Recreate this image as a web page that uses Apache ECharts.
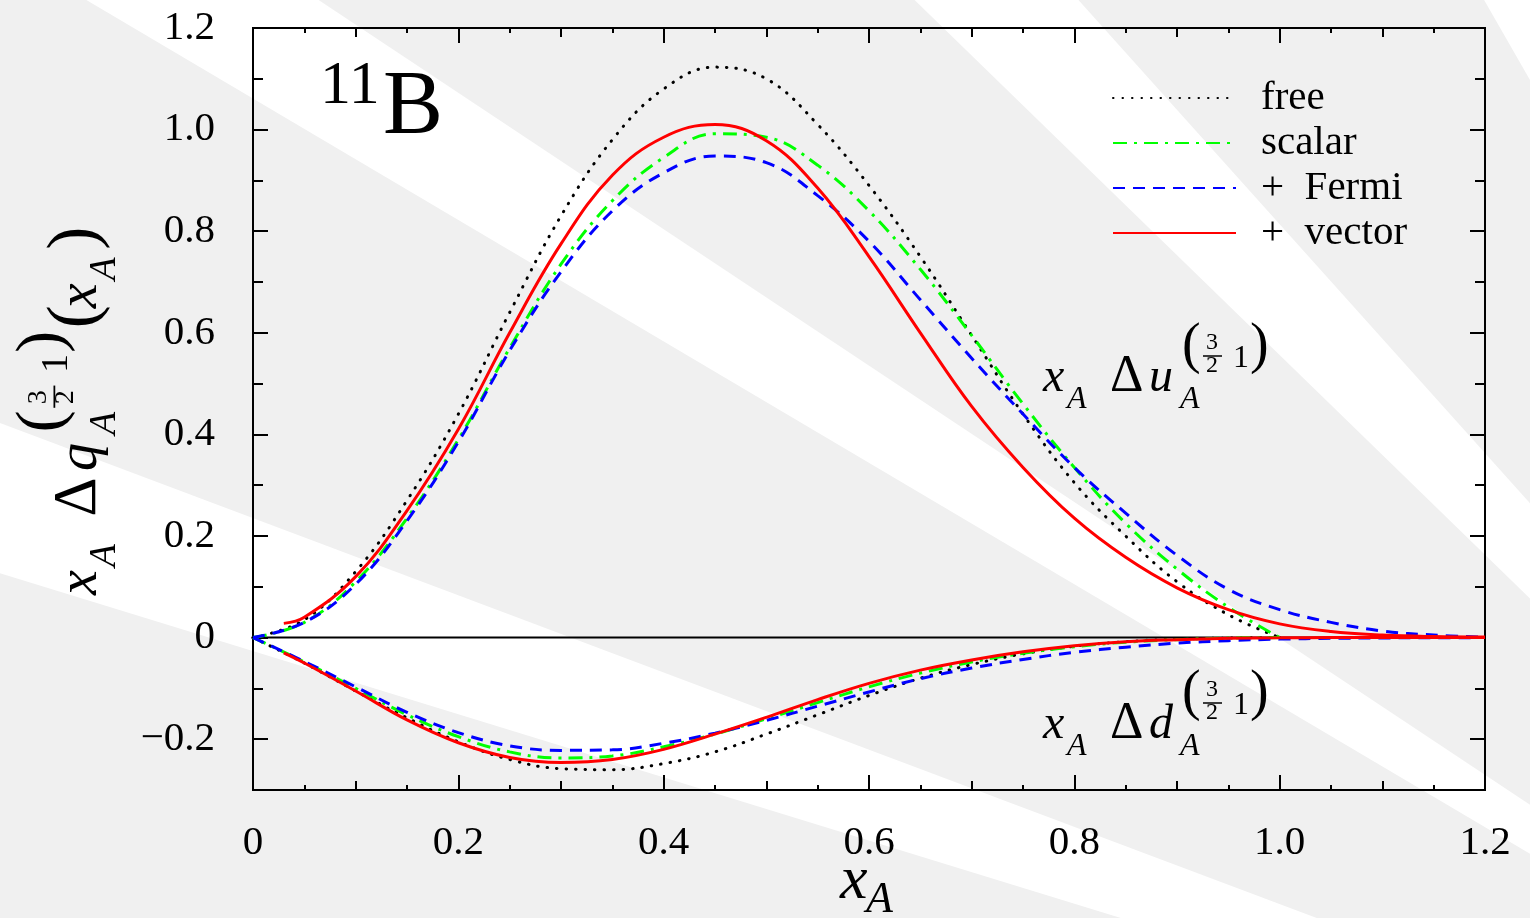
<!DOCTYPE html>
<html>
<head>
<meta charset="utf-8">
<script src="https://cdn.jsdelivr.net/npm/echarts@6/dist/echarts.min.js"></script>
<style>
  html, body { margin: 0; padding: 0; background: #f0f0f0; }
  #chart { width: 1530px; height: 918px; }
</style>
</head>
<body>
<div id="chart"></div>
<script>
// x_A sample points
const xTo1 = [0, 0.05, 0.1, 0.15, 0.2, 0.25, 0.3, 0.35, 0.4, 0.45, 0.5, 0.55, 0.6, 0.65, 0.7, 0.75, 0.8, 0.85, 0.9, 0.95, 1.0];
const xFull = [0, 0.05, 0.1, 0.15, 0.2, 0.25, 0.3, 0.35, 0.4, 0.45, 0.5, 0.55, 0.6, 0.65, 0.7, 0.75, 0.8, 0.85, 0.9, 0.95, 1.0, 1.05, 1.1, 1.15, 1.2];
const xVector = [0.03, 0.05, 0.1, 0.15, 0.2, 0.25, 0.3, 0.35, 0.4, 0.45, 0.5, 0.55, 0.6, 0.65, 0.7, 0.75, 0.8, 0.85, 0.9, 0.95, 1.0, 1.05, 1.1, 1.15, 1.2];

// u quark curves
const freeU   = [0, 0.035, 0.13, 0.27, 0.44, 0.64, 0.83, 0.98, 1.08, 1.123, 1.10, 1.01, 0.89, 0.75, 0.595, 0.44, 0.305, 0.20, 0.11, 0.045, 0];
const scalarU = [0, 0.03, 0.11, 0.235, 0.39, 0.57, 0.735, 0.86, 0.945, 0.992, 0.985, 0.93, 0.84, 0.725, 0.595, 0.46, 0.335, 0.225, 0.135, 0.06, 0];
const fermiU  = [0, 0.03, 0.105, 0.23, 0.385, 0.565, 0.72, 0.84, 0.915, 0.948, 0.935, 0.87, 0.78, 0.665, 0.55, 0.44, 0.335, 0.245, 0.162, 0.095, 0.055, 0.03, 0.013, 0.005, 0.001];
const vectorU = [0.028, 0.04, 0.12, 0.25, 0.41, 0.60, 0.775, 0.91, 0.985, 1.01, 0.978, 0.885, 0.75, 0.60, 0.455, 0.335, 0.235, 0.158, 0.098, 0.055, 0.027, 0.012, 0.005, 0.002, 0.001];

// d quark curves
const freeD   = [0, -0.05, -0.105, -0.158, -0.205, -0.24, -0.258, -0.26, -0.248, -0.225, -0.19, -0.152, -0.114, -0.08, -0.053, -0.032, -0.017, -0.008, -0.003, -0.001, 0];
const scalarD = [0, -0.048, -0.1, -0.152, -0.195, -0.225, -0.237, -0.233, -0.215, -0.19, -0.16, -0.128, -0.097, -0.07, -0.048, -0.031, -0.018, -0.009, -0.004, -0.001, 0];
const fermiD  = [0, -0.047, -0.097, -0.147, -0.187, -0.213, -0.222, -0.221, -0.208, -0.188, -0.163, -0.135, -0.107, -0.081, -0.06, -0.043, -0.029, -0.019, -0.011, -0.006, -0.003, -0.0015, -0.0007, -0.0003, 0];
const vectorD = [-0.03, -0.05, -0.105, -0.162, -0.207, -0.236, -0.246, -0.24, -0.22, -0.19, -0.157, -0.122, -0.09, -0.064, -0.044, -0.028, -0.016, -0.008, -0.004, -0.0015, -0.0005, 0, 0, 0, 0];

const names = ['free', 'scalar', '+\u2002Fermi', '+\u2002vector'];

// ticks
const xMajor = [0, 0.2, 0.4, 0.6, 0.8, 1.0, 1.2];
const xMid = [0.1, 0.3, 0.5, 0.7, 0.9, 1.1];
const xMinor = [0.05, 0.15, 0.25, 0.35, 0.45, 0.55, 0.65, 0.75, 0.85, 0.95, 1.05, 1.15];
const yMajor = [-0.2, 0, 0.2, 0.4, 0.6, 0.8, 1.0, 1.2];
const yMinor = [-0.1, 0.1, 0.3, 0.5, 0.7, 0.9, 1.1];

const FONT = '"Liberation Serif", "DejaVu Serif", serif';

function zip(xs, ys) { return xs.map((x, i) => [x, ys[i]]); }

function fmt(v) {
  if (Math.abs(v) < 1e-9) return '0';
  const s = Math.abs(v).toFixed(1);
  return v < 0 ? '\u2212' + s : s;
}

function xAx(pos, ticks, len, labels) {
  return {
    type: 'value', min: 0, max: 1.2, position: pos,
    axisLine: { show: true, onZero: false, lineStyle: { color: '#000', width: 2 } },
    axisTick: { show: true, inside: true, length: len, customValues: ticks, lineStyle: { color: '#000', width: 2 } },
    axisLabel: labels ? { show: true, customValues: ticks, formatter: fmt, margin: 33, color: '#000', fontSize: 41, fontFamily: FONT } : { show: false },
    splitLine: { show: false }
  };
}
function yAx(pos, ticks, len, labels) {
  return {
    type: 'value', min: -0.3, max: 1.2, position: pos,
    axisLine: { show: true, onZero: false, lineStyle: { color: '#000', width: 2 } },
    axisTick: { show: true, inside: true, length: len, customValues: ticks, lineStyle: { color: '#000', width: 2 } },
    axisLabel: labels ? { show: true, customValues: ticks, formatter: fmt, margin: 38, color: '#000', fontSize: 41, fontFamily: FONT } : { show: false },
    splitLine: { show: false }
  };
}

function curve(name, xs, ys, color, type, width, cap) {
  return {
    name: name, type: 'line', data: zip(xs, ys), smooth: 0.4,
    symbol: 'none', silent: true,
    lineStyle: { color: color, type: type, width: width, cap: cap || 'butt' },
    itemStyle: { color: color }
  };
}

// background sunburst stripes
const sunC = [2200, 1250];
const whiteRays = [[17.1, 20.6], [30.6, 33.6], [44.2, 48.1], [60.2, 72]];
function rayPt(a) {
  const r = a * Math.PI / 180, R = 4000;
  return [sunC[0] - R * Math.cos(r), sunC[1] - R * Math.sin(r)];
}
const stripes = whiteRays.map(w => ({
  type: 'polygon', silent: true, z: -10,
  shape: { points: [sunC, rayPt(w[0]), rayPt(w[1])] },
  style: { fill: '#ffffff' }
}));

// math-like text pieces: [text, dx, baseline offset, size, italic, align]
function txt(p, k) {
  return {
    type: 'text', z: 100, silent: true,
    style: {
      text: p[0], x: p[1] * k, y: (p[2] - 0.34 * p[3]) * k,
      font: (p[4] ? 'italic ' : '') + (p[3] * k) + 'px ' + FONT,
      fill: '#000', textAlign: p[5] || 'left', textVerticalAlign: 'middle'
    }
  };
}
function bar(x1, x2, y, k) {
  return { type: 'line', z: 100, silent: true, shape: { x1: x1 * k, y1: y * k, x2: x2 * k, y2: y * k }, style: { stroke: '#000', lineWidth: 1.5 * k } };
}
function distPieces(letter) {
  return [
    ['x', 0, 0, 48, true],
    ['A', 24, 15, 32, true],
    ['\u0394', 67, 0, 52, false],
    [letter, 106, 0, 48, true],
    ['A', 137, 15, 32, true],
    ['(', 139, -29, 56, false],
    ['3', 169, -44, 24, false, 'center'],
    ['2', 169, -21, 24, false, 'center'],
    ['1', 190, -26, 32, false],
    [')', 207, -29, 56, false]
  ];
}
function mathGroup(pieces, k, x, y, rot) {
  const ch = pieces.map(p => txt(p, k));
  ch.push(bar(160, 179, -39, k));
  return { type: 'group', x: x, y: y, rotation: rot || 0, children: ch };
}

const yLabelPieces = distPieces('q').concat([
  ['(', 228, 0, 59, false],
  ['x', 245, 0, 48, true],
  ['A', 269, 15, 32, true],
  [')', 295, 0, 59, false]
]);

const chart = echarts.init(document.getElementById('chart'));
chart.setOption({
  animation: false,
  backgroundColor: '#f0f0f0',
  grid: { left: 253, right: 45, top: 28, bottom: 128, outerBoundsMode: 'none' },
  legend: {
    orient: 'vertical', left: 1112, top: 75.5, padding: 0,
    itemWidth: 123, itemHeight: 14, itemGap: 0, selectedMode: false,
    data: names,
    itemStyle: { opacity: 0, borderWidth: 0 },
    textStyle: { color: '#000', fontSize: 41, fontFamily: FONT, lineHeight: 45, padding: [0, 0, 0, 20] }
  },
  xAxis: [
    xAx('bottom', xMajor, 15, true), xAx('bottom', xMid, 9, false), xAx('bottom', xMinor, 5, false),
    xAx('top', xMajor, 15, false), xAx('top', xMid, 9, false), xAx('top', xMinor, 5, false)
  ],
  yAxis: [
    yAx('left', yMajor, 15, true), yAx('left', yMinor, 10, false),
    yAx('right', yMajor, 15, false), yAx('right', yMinor, 10, false)
  ],
  series: [
    { name: 'zero', type: 'line', data: [[0, 0], [1.2, 0]], symbol: 'none', silent: true, lineStyle: { color: '#000', width: 2 } },
    curve(names[0], xTo1, freeU, '#000000', [0.5, 9], 3, 'round'),
    curve(names[0], xTo1, freeD, '#000000', [0.5, 9], 3, 'round'),
    curve(names[1], xTo1, scalarU, '#00ff00', [14, 7, 3, 7], 3),
    curve(names[1], xTo1, scalarD, '#00ff00', [14, 7, 3, 7], 3),
    curve(names[2], xFull, fermiU, '#0000ff', [12, 8], 3),
    curve(names[2], xFull, fermiD, '#0000ff', [12, 8], 3),
    curve(names[3], xVector, vectorU, '#ff0000', 'solid', 3),
    curve(names[3], xVector, vectorD, '#ff0000', 'solid', 3)
  ],
  graphic: stripes.concat([
    mathGroup(distPieces('u'), 1, 1043, 395),
    mathGroup(distPieces('d'), 1, 1043, 742),
    mathGroup(yLabelPieces, 1.17, 100, 595, Math.PI / 2),
    txt(['11', 320, 108, 62, false], 1),
    txt(['B', 383, 140, 90, false], 1),
    txt(['x', 840, 903, 62, true], 1),
    txt(['A', 866, 915, 44, true], 1)
  ])
});
</script>
</body>
</html>
